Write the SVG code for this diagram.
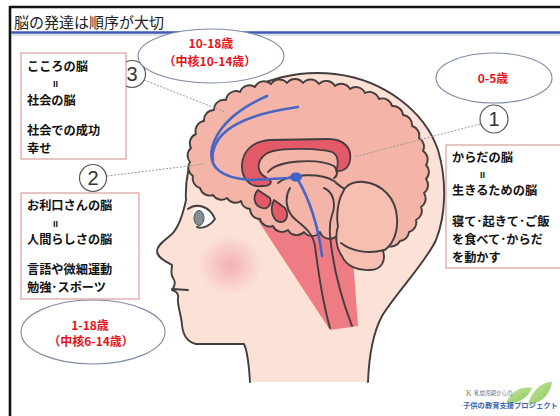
<svg xmlns="http://www.w3.org/2000/svg" width="560" height="416" viewBox="0 0 560 416">
  <defs>
    <radialGradient id="blush" cx="0.5" cy="0.5" r="0.5">
      <stop offset="0" stop-color="#f0a0aa" stop-opacity="0.75"/>
      <stop offset="1" stop-color="#f0a0aa" stop-opacity="0"/>
    </radialGradient>
    <linearGradient id="leaf" x1="0" y1="0" x2="1" y2="1">
      <stop offset="0" stop-color="#c9e6a0"/>
      <stop offset="1" stop-color="#8cc65a"/>
    </linearGradient>
  </defs>
  <style>
    .jp { font-family: "Noto Sans CJK JP", "Noto Sans CJK SC", sans-serif; }
    .box { fill: #ffffff; stroke: #d48a8a; stroke-width: 1; }
    .txt { font-size: 12.2px; font-weight: 700; fill: #111111; }
    .eq { font-family: "Liberation Sans", sans-serif; font-size: 9px; font-weight: 700; fill: #111111; }
    .age { fill: #ffffff; stroke: #7f8aa6; stroke-width: 1.1; }
    .red { font-size: 12px; font-weight: 700; fill: #e8111b; text-anchor: middle; }
    .lead { fill: none; stroke: #9a9a9a; stroke-width: 1; stroke-dasharray: 2 1.5; }
    .num { fill: #ffffff; stroke: #555555; stroke-width: 1.2; }
    .numt { font-family: "Liberation Sans", sans-serif; font-size: 20px; fill: #333333; text-anchor: middle; }
    .ink { fill: none; stroke: #433d3d; stroke-width: 1.9; stroke-linejoin: round; stroke-linecap: round; }
    .deep { fill: #e25a68; stroke: #433d3d; stroke-width: 1.8; stroke-linejoin: round; }
    .nerve { fill: none; stroke: #4767c6; stroke-width: 2.6; stroke-linecap: round; }
  </style>

  <!-- page -->
  <rect x="0" y="0" width="560" height="416" fill="#ffffff"/>
  <line x1="10" y1="7" x2="560" y2="7" stroke="#111111" stroke-width="2.6"/>
  <line x1="10" y1="6" x2="10" y2="416" stroke="#111111" stroke-width="2.6"/>
  <line x1="11" y1="32.5" x2="560" y2="32.5" stroke="#3b5bb5" stroke-width="2.4"/>
  <line x1="11" y1="35" x2="560" y2="35" stroke="#b9bfcc" stroke-width="1"/>
  <text class="jp" x="14" y="28" font-size="15" fill="#222222">脳の発達は順序が大切</text>

  <!-- head illustration -->
  <g id="head">
    <path d="M250,382 C249,366 248,352 244,344 L196,344 C187,342 183,335 182,325 C181,313 177,305 178,298 C179,294 176,291 172,290 C175,286 176,282 173,278 C170,274 172,269 172,265 C167,262 157,258 157,251 C157,245 165,240 172,234 C179,227 183,214 186,200 C184,165 200,125 232,100 C262,78 300,70 335,74 C385,80 425,112 438,150 C447,180 446,215 436,240 C426,262 396,293 382,316 C373,333 369,355 368,382 Z" fill="#fbe1d6"/>
    <ellipse cx="230" cy="265" rx="32" ry="30" fill="url(#blush)"/>
    <path class="ink" d="M250,382 C249,366 248,352 244,344 L196,344 C187,342 183,335 182,325 C181,313 177,305 178,298 C179,294 176,291 172,290 C175,286 176,282 173,278 C170,274 172,269 172,265 C167,262 157,258 157,251 C157,245 165,240 172,234 C179,227 183,214 186,200 C184,165 200,125 232,100 C262,78 300,70 335,74 C385,80 425,112 438,150 C447,180 446,215 436,240 C426,262 396,293 382,316 C373,333 369,355 368,382"/>
    <!-- mouth -->
    <path class="ink" d="M172,289 L188,290"/>
    <!-- eye -->
    <path d="M192,212 C198,205 209,206 215,219 C210,226 203,229 197,227 Z" fill="#ffffff"/>
    <ellipse cx="199" cy="218" rx="5" ry="7.5" fill="#848e90" stroke="#555555" stroke-width="1"/>
    <path class="ink" d="M188,209 C196,203 209,205 215,219 C210,226 203,229 197,227"/>
  </g>

  <!-- brain -->
  <g id="brain">
    <!-- cerebrum fill -->
    <path id="cerebrum" d="M200,188 A10 10 0 0 1 193,176 A10 10 0 0 1 190,162 A10 10 0 0 1 191,148 A10 10 0 0 1 196,134 A10 10 0 0 1 204,121 A10 10 0 0 1 214,110 A10 10 0 0 1 226,100 A10 10 0 0 1 240,92 A10 10 0 0 1 255,87 A10 10 0 0 1 271,84 A10 10 0 0 1 287,83 A10 10 0 0 1 303,83 A10 10 0 0 1 319,84 A10 10 0 0 1 335,86 A10 10 0 0 1 350,89 A10 10 0 0 1 365,93 A10 10 0 0 1 379,99 A10 10 0 0 1 392,106 A10 10 0 0 1 403,115 A10 10 0 0 1 412,126 A10 10 0 0 1 419,138 A10 10 0 0 1 423,151 A10 10 0 0 1 426,165 A10 10 0 0 1 426,179 A10 10 0 0 1 424,193 A10 10 0 0 1 421,207 A10 10 0 0 1 416,220 A10 10 0 0 1 409,232 A10 10 0 0 1 400,241 A10 10 0 0 1 388,246 A10 10 0 0 1 372,248 A10 10 0 0 1 355,242 A10 10 0 0 1 338,234 A10 10 0 0 1 320,232 A10 10 0 0 1 304,232 A10 10 0 0 1 288,230 A10 10 0 0 1 273,226 A10 10 0 0 1 260,219 A10 10 0 0 1 250,209 A10 10 0 0 1 241,201 A10 10 0 0 1 227,198 A10 10 0 0 1 213,195 A10 10 0 0 1 200,188 Z" fill="#f4b4a7"/>

    <!-- limbic region and brainstem wedge -->
    <path d="M239,150 C239,139 247,133 261,133 L343,133 C353,133 358,140 358,150 L357,190 L352,245 L358,326 L330,330 L238,190 Z" fill="#e63e52" fill-opacity="0.62"/>

    <!-- cerebrum outline over the wedge -->
    <use href="#cerebrum" fill="none" stroke="#433d3d" stroke-width="1.9" stroke-linejoin="round"/>

    <!-- corpus callosum -->
    <path class="deep" d="M262,186 C250,188 241,178 242,164 C243,150 254,141 270,140 L328,139 C344,139 352,148 350,160 C349,168 343,172 336,171 C338,166 340,156 332,152 C318,148 286,148 273,151 C261,154 256,164 260,172 C263,178 270,178 271,182 C270,186 266,186 262,186 Z"/>
    <!-- fornix and thalamus -->
    <path class="ink" d="M268,172 C278,160 318,158 334,166 C338,170 338,176 334,178"/>
    <path class="ink" d="M278,183 C290,173 322,173 334,181 C340,186 344,190 351,190"/>
    <!-- hypothalamus / pituitary -->
    <path class="deep" d="M258,190 C252,196 254,206 262,208 C268,210 272,204 270,198 Z"/>
    <path class="deep" d="M274,200 C269,210 273,222 281,222 C287,222 289,214 285,208 Z"/>
    <!-- midbrain, pons, medulla -->
    <path class="ink" d="M290,188 C284,198 286,212 296,220 C306,228 313,234 315,246 C318,270 322,300 330,328"/>
    <path class="ink" d="M324,188 C334,192 336,205 332,215 C328,226 330,236 331,244 C334,270 342,300 352,326"/>

    <!-- cerebellum -->
    <path d="M343,192 C346,184 355,181 364,182 C382,184 396,198 397,218 C398,234 392,246 383,251 C386,260 382,270 370,270 C358,271 346,266 342,256 C336,248 335,236 338,226 C336,216 338,200 343,192 Z" fill="#f6bfb2" stroke="#433d3d" stroke-width="1.9" stroke-linejoin="round"/>
    <path class="ink" d="M341,243 C352,252 370,254 384,250"/>

    <!-- neural pathways -->
    <path class="nerve" d="M267,96 C240,108 218,125 212,148 C208,168 222,178 250,180 L290,178"/>
    <path class="nerve" d="M298,107 C262,112 230,122 218,140 C212,150 212,156 213,160"/>
    <path class="nerve" d="M297,178 C310,200 318,225 322,256"/>
    <ellipse cx="296" cy="177" rx="6" ry="4.5" fill="#3f63c5"/>
  </g>

  <!-- leader lines -->
  <g id="connectors">
    <path class="lead" d="M144,80 L225,112"/>
    <path class="lead" d="M107,176 L205,164"/>
    <path class="lead" d="M480,124 L354,157"/>
  </g>

  <!-- markers -->
  <g id="mark3">
    <circle class="num" cx="132" cy="74" r="13.5"/>
    <text class="numt" x="132" y="81">3</text>
  </g>
  <g id="mark2">
    <circle class="num" cx="93" cy="178" r="13.5"/>
    <text class="numt" x="93" y="185">2</text>
  </g>
  <g id="mark1">
    <circle class="num" cx="494" cy="119" r="14"/>
    <text class="numt" x="494" y="126">1</text>
  </g>

  <!-- age ellipses -->
  <g id="age-social">
    <ellipse class="age" cx="211" cy="56" rx="73" ry="27"/>
    <text class="jp red" x="211" y="48">10-18歳</text>
    <text class="jp red" x="210" y="66">（中核10-14歳）</text>
  </g>
  <g id="age-body">
    <ellipse class="age" cx="494" cy="78" rx="58" ry="25"/>
    <text class="jp red" x="493" y="83">0-5歳</text>
  </g>
  <g id="age-smart">
    <ellipse class="age" cx="93" cy="332" rx="72" ry="32"/>
    <text class="jp red" x="90" y="330">1-18歳</text>
    <text class="jp red" x="91" y="346">（中核6-14歳）</text>
  </g>

  <!-- description boxes -->
  <g id="box-social">
    <rect class="box" x="21" y="53" width="105" height="106"/>
    <text class="jp txt" x="27" y="71">こころの脳</text>
    <text class="eq" x="53" y="87">II</text>
    <text class="jp txt" x="27" y="105">社会の脳</text>
    <text class="jp txt" x="27" y="135">社会での成功</text>
    <text class="jp txt" x="27" y="153">幸せ</text>
  </g>
  <g id="box-smart">
    <rect class="box" x="21" y="193" width="118" height="106"/>
    <text class="jp txt" x="27" y="210">お利口さんの脳</text>
    <text class="eq" x="53" y="227">II</text>
    <text class="jp txt" x="27" y="244">人間らしさの脳</text>
    <text class="jp txt" x="27" y="274">言語や微細運動</text>
    <text class="jp txt" x="27" y="292">勉強･スポーツ</text>
  </g>
  <g id="box-body">
    <rect class="box" x="446" y="145" width="120" height="123"/>
    <text class="jp txt" x="452" y="162">からだの脳</text>
    <text class="eq" x="480" y="178">II</text>
    <text class="jp txt" x="452" y="195">生きるための脳</text>
    <text class="jp txt" x="452" y="226">寝て･起きて･ご飯</text>
    <text class="jp txt" x="452" y="244">を食べて･からだ</text>
    <text class="jp txt" x="452" y="262">を動かす</text>
  </g>

  <!-- project logo -->
  <g id="logo">
    <path d="M506,404 C510,392 520,386 532,388 C528,398 518,404 506,404 Z" fill="url(#leaf)"/>
    <path d="M528,404 C532,390 542,382 552,382 C550,396 540,404 528,404 Z" fill="url(#leaf)"/>
    <text x="466" y="396" font-family="Liberation Serif, serif" font-size="8" fill="#7a8a5a">K</text>
    <text class="jp" x="474" y="395" font-size="5.5" fill="#5a6b8a">乳幼児期からの</text>
    <text class="jp" x="463" y="408" font-size="7.3" font-weight="700" fill="#3c66b0">子供の教育支援プロジェクト</text>
  </g>
</svg>
